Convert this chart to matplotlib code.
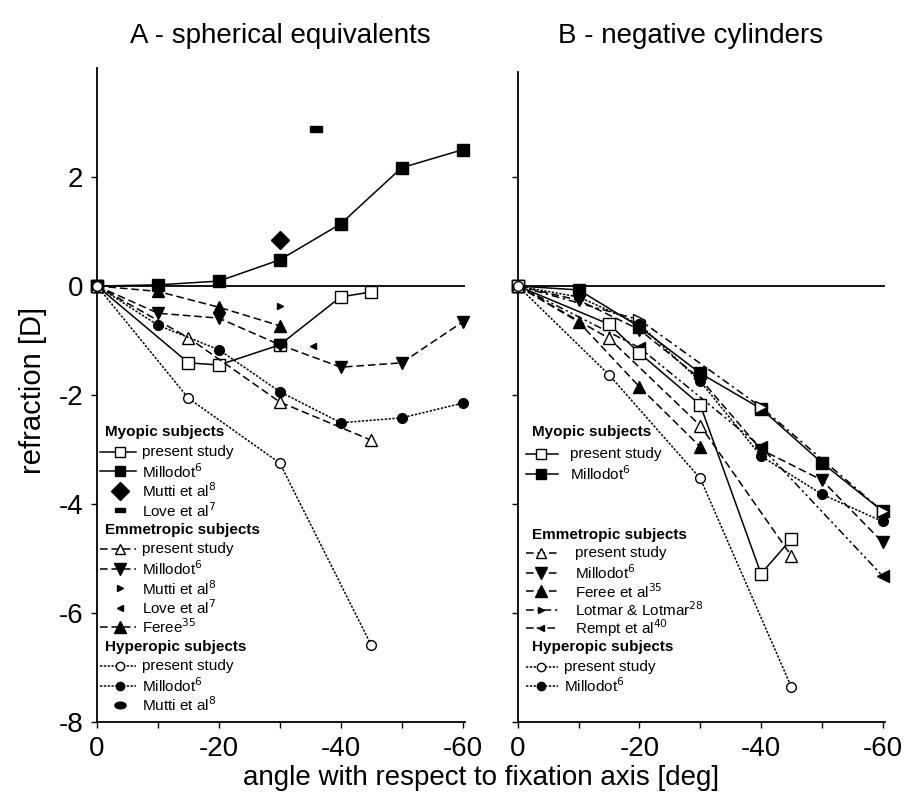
# peripheral refraction vs angle, two panels (spherical equivalents / cylinders)
import numpy as np
import matplotlib
matplotlib.use('Agg')
from matplotlib import pyplot as plt

plt.rcParams['font.family'] = ['Liberation Sans', 'DejaVu Sans']
plt.rcParams['axes.unicode_minus'] = False

# ---- panel A: spherical equivalents ----
a_myo_present_x = [0, -15, -20, -30, -40, -45]
a_myo_present_y = [0, -1.41, -1.45, -1.08, -0.20, -0.11]
a_myo_millodot_x = [0, -10, -20, -30, -40, -50, -60]
a_myo_millodot_y = [0, 0.02, 0.09, 0.48, 1.14, 2.17, 2.50]
a_myo_mutti_x = [-30]
a_myo_mutti_y = [0.84]
a_myo_love_x = [-36]
a_myo_love_y = [2.88]

a_emm_present_x = [0, -15, -30, -45]
a_emm_present_y = [0, -0.95, -2.13, -2.83]
a_emm_millodot_x = [0, -10, -20, -30, -40, -50, -60]
a_emm_millodot_y = [0, -0.50, -0.59, -1.08, -1.49, -1.41, -0.66]
a_emm_mutti_x = [-30]
a_emm_mutti_y = [-0.37]
a_emm_love_x = [-35.5]
a_emm_love_y = [-1.10]
a_emm_ferree_x = [0, -10, -20, -30]
a_emm_ferree_y = [0, -0.10, -0.39, -0.73]

a_hyp_present_x = [0, -15, -30, -45]
a_hyp_present_y = [0, -2.06, -3.25, -6.59]
a_hyp_millodot_x = [0, -10, -20, -30, -40, -50, -60]
a_hyp_millodot_y = [0, -0.72, -1.17, -1.94, -2.51, -2.42, -2.15]
a_hyp_mutti_x = [-30]
a_hyp_mutti_y = [-1.07]

# ---- panel B: negative cylinders ----
b_myo_present_x = [0, -15, -20, -30, -40, -45]
b_myo_present_y = [0, -0.70, -1.23, -2.18, -5.28, -4.64]
b_myo_millodot_x = [0, -10, -20, -30, -40, -50, -60]
b_myo_millodot_y = [0, -0.07, -0.75, -1.60, -2.25, -3.24, -4.13]

b_emm_present_x = [0, -15, -30, -45]
b_emm_present_y = [0, -0.96, -2.56, -4.95]
b_emm_millodot_x = [0, -10, -20, -30, -40, -50, -60]
b_emm_millodot_y = [0, -0.26, -0.80, -1.70, -3.00, -3.56, -4.70]
b_emm_ferree_x = [0, -10, -20, -30]
b_emm_ferree_y = [0, -0.66, -1.85, -2.95]
b_emm_lotmar_x = [0, -20, -40, -60]
b_emm_lotmar_y = [0, -0.62, -2.22, -4.13]
b_emm_rempt_x = [0, -20, -40, -60]
b_emm_rempt_y = [0, -1.13, -2.95, -5.32]

b_hyp_present_x = [0, -15, -30, -45]
b_hyp_present_y = [0, -1.63, -3.53, -7.36]
b_hyp_millodot_x = [0, -10, -20, -30, -40, -50, -60]
b_hyp_millodot_y = [0, -0.20, -0.70, -1.75, -3.12, -3.82, -4.32]

x_ticks = [0, -10, -20, -30, -40, -50, -60]
x_ticklabels = ['0', '', '-20', '', '-40', '', '-60']
y_ticks = [2, 0, -2, -4, -6, -8]
y_ticklabels = ['2', '0', '-2', '-4', '-6', '-8']

# line styles
SOLID = '-'
DASH = (0, (5, 2.5))
DOT = (0, (1.5, 1))
DASHDOT = (0, (5, 2.5, 1.5, 2.5))
DASHDOTDOT = (0, (5, 2, 1.5, 2, 1.5, 2))

t = np.linspace(0, 2 * np.pi, 40)
ELLIPSE = list(zip(np.cos(t), 0.6 * np.sin(t)))
BAR = [(-1, -0.5), (1, -0.5), (1, 0.5), (-1, 0.5), (-1, -0.5)]


def draw(ax, x, y, ls, marker, ms, fill='k'):
    ax.plot(x, y, color='k', ls=ls, lw=1.1, marker=marker, ms=ms,
            mfc=fill, mec='k', mew=1.0, clip_on=False, zorder=3)


def key(ax, rows, ys, txs, hx, mx, headx):
    # hand made legend: header rows have style None
    for row, yy, tx in zip(rows, ys, txs):
        label, style = row
        if style is None:
            ax.text(headx, yy, label, transform=ax.transAxes, fontsize=11,
                    fontweight='bold', va='center', ha='left')
            continue
        ls, marker, ms, fill = style
        if ls is not None:
            ax.plot(hx, [yy, yy], color='k', ls=ls, lw=1.1,
                    transform=ax.transAxes, clip_on=False)
        ax.plot([mx], [yy], marker=marker, ms=ms, mfc=fill, mec='k',
                mew=1.0, color='k', transform=ax.transAxes, clip_on=False)
        ax.text(tx, yy, label, transform=ax.transAxes, fontsize=11,
                va='center', ha='left')


fig = plt.figure(figsize=(9.06, 7.96), dpi=100)
axA = fig.add_axes([0.1071, 0.0930, 0.4062, 0.8216])
axB = fig.add_axes([0.5717, 0.0930, 0.4051, 0.8166])

for ax in (axA, axB):
    ax.spines['top'].set_visible(False)
    ax.spines['right'].set_visible(False)
    ax.spines['left'].set_linewidth(1.3)
    ax.spines['bottom'].set_linewidth(1.3)
    ax.axhline(0, color='k', lw=1.3, zorder=2)
    ax.set_xlim(0, -60.4)
    ax.set_xticks(x_ticks)
    ax.set_xticklabels(x_ticklabels, fontsize=20)
    ax.set_yticks(y_ticks)
    ax.tick_params(direction='out', length=4, width=1, pad=6)

axA.set_ylim(-8, 4.0)
axB.set_ylim(-8, 3.93)
axA.set_yticklabels(y_ticklabels, fontsize=20)
axB.set_yticklabels([])

# panel A data
draw(axA, a_myo_millodot_x, a_myo_millodot_y, SOLID, 's', 9)
draw(axA, a_myo_present_x, a_myo_present_y, SOLID, 's', 8, 'w')
draw(axA, a_myo_mutti_x, a_myo_mutti_y, 'none', 'D', 9)
draw(axA, a_myo_love_x, a_myo_love_y, 'none', BAR, 8)
draw(axA, a_emm_ferree_x, a_emm_ferree_y, DASH, '^', 9)
draw(axA, a_emm_millodot_x, a_emm_millodot_y, DASH, 'v', 9)
draw(axA, a_emm_present_x, a_emm_present_y, DASH, '^', 9, 'w')
draw(axA, a_emm_mutti_x, a_emm_mutti_y, 'none', '>', 5)
draw(axA, a_emm_love_x, a_emm_love_y, 'none', '<', 5)
draw(axA, a_hyp_millodot_x, a_hyp_millodot_y, DOT, 'o', 7)
draw(axA, a_hyp_present_x, a_hyp_present_y, DOT, 'o', 7, 'w')
draw(axA, a_hyp_mutti_x, a_hyp_mutti_y, 'none', ELLIPSE, 9)

# panel B data
draw(axB, b_myo_millodot_x, b_myo_millodot_y, SOLID, 's', 9)
draw(axB, b_emm_lotmar_x, b_emm_lotmar_y, DASHDOT, '>', 9, 'w')
draw(axB, b_emm_millodot_x, b_emm_millodot_y, DASH, 'v', 9)
draw(axB, b_hyp_millodot_x, b_hyp_millodot_y, DOT, 'o', 7)
draw(axB, b_emm_rempt_x, b_emm_rempt_y, DASHDOTDOT, '<', 8)
draw(axB, b_emm_ferree_x, b_emm_ferree_y, DASH, '^', 9)
draw(axB, b_myo_present_x, b_myo_present_y, SOLID, 's', 9, 'w')
draw(axB, b_emm_present_x, b_emm_present_y, DASH, '^', 9, 'w')
draw(axB, b_hyp_present_x, b_hyp_present_y, DOT, 'o', 7, 'w')

# legends
rows_a = [
    ('Myopic subjects', None),
    ('present study', (SOLID, 's', 7, 'w')),
    ('Millodot$^{6}$', (SOLID, 's', 7, 'k')),
    ('Mutti et al$^{8}$', (None, 'D', 9, 'k')),
    ('Love et al$^{7}$', (None, BAR, 7, 'k')),
    ('Emmetropic subjects', None),
    ('present study', (DASH, '^', 7, 'w')),
    ('Millodot$^{6}$', (DASH, 'v', 8, 'k')),
    ('Mutti et al$^{8}$', (None, '>', 5, 'k')),
    ('Love et al$^{7}$', (None, '<', 5, 'k')),
    ('Feree$^{35}$', (DASH, '^', 8, 'k')),
    ('Hyperopic subjects', None),
    ('present study', (DOT, 'o', 6, 'w')),
    ('Millodot$^{6}$', (DOT, 'o', 6, 'k')),
    ('Mutti et al$^{8}$', (None, ELLIPSE, 8, 'k')),
]
ys_a = [0.443 - 0.0298 * i for i in range(len(rows_a))]
txs_a = [0.122] * len(rows_a)
key(axA, rows_a, ys_a, txs_a, [0.008, 0.106], 0.062, 0.022)

rows_b = [
    ('Myopic subjects', None),
    ('present study', (SOLID, 's', 7, 'w')),
    ('Millodot$^{6}$', (SOLID, 's', 7, 'k')),
    ('Emmetropic subjects', None),
    ('present study', (DASH, '^', 7, 'w')),
    ('Millodot$^{6}$', (DASH, 'v', 8, 'k')),
    ('Feree et al$^{35}$', (DASH, '^', 8, 'k')),
    ('Lotmar & Lotmar$^{28}$', (DASHDOT, '>', 5, 'k')),
    ('Rempt et al$^{40}$', (DASHDOTDOT, '<', 5, 'k')),
    ('Hyperopic subjects', None),
    ('present study', (DOT, 'o', 6, 'w')),
    ('Millodot$^{6}$', (DOT, 'o', 6, 'k')),
]
ys_b = [0.446, 0.413, 0.382, 0.288, 0.260, 0.229, 0.201, 0.173, 0.145,
        0.116, 0.085, 0.056]
txs_b = [0.142, 0.142, 0.142, 0.155, 0.155, 0.155, 0.155, 0.155, 0.155,
         0.125, 0.125, 0.125]
key(axB, rows_b, ys_b, txs_b, [0.022, 0.110], 0.064, 0.038)

fig.text(0.309, 0.955, 'A - spherical equivalents', ha='center', va='center',
         fontsize=20)
fig.text(0.762, 0.955, 'B - negative cylinders', ha='center', va='center',
         fontsize=20)
fig.text(0.036, 0.51, 'refraction [D]', rotation=90, ha='center',
         va='center', fontsize=21)
fig.text(0.531, 0.022, 'angle with respect to fixation axis [deg]',
         ha='center', va='center', fontsize=20)

fig.savefig('out.png', dpi=100)
